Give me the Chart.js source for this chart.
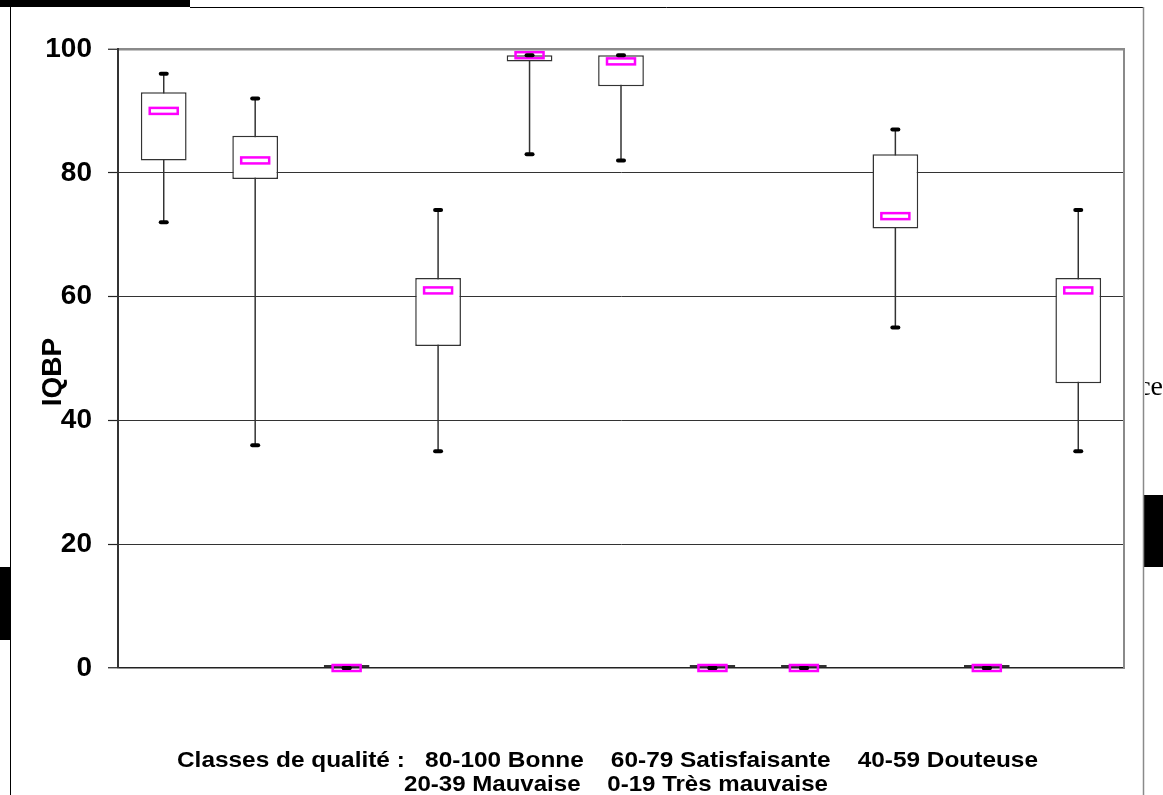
<!DOCTYPE html>
<html>
<head>
<meta charset="utf-8">
<script src="https://cdn.jsdelivr.net/npm/chart.js@4.4.1/dist/chart.umd.min.js"></script>
<style>
html, body { margin: 0; padding: 0; background: #fff; }
canvas { display: block; }
</style>
</head>
<body>
<canvas id="iqbpChart" width="1163" height="795"></canvas>
<script>
// Stations (pas d'étiquette visible sur l'axe X)
const sites = ['1', '2', '3', '4', '5', '6', '7', '8', '9', '10', '11'];

// Valeurs de l'IQBP par station
const whiskerLow  = [72, 36, 0, 35, 83, 82, 0, 0, 55, 0, 35];
const quart1      = [82, 79, 0, 52, 98, 94, 0, 0, 71, 0, 46];
const medians     = [90, 82, 0, 61, 99, 98, 0, 0, 73, 0, 61];
const quart3      = [93, 86, 0, 63, 99, 99, 0, 0, 83, 0, 63];
const whiskerHigh = [96, 92, 0, 74, 99, 99, 0, 0, 87, 0, 74];

const yTicks = [0, 20, 40, 60, 80, 100];
const yTitle = 'IQBP';
const legendLines = [
    'Classes de qualité :   80-100 Bonne    60-79 Satisfaisante    40-59 Douteuse',
    '20-39 Mauvaise    0-19 Très mauvaise'
];

const FONT = '"Liberation Sans", Arial, sans-serif';

// cadre et morceaux de page autour du graphique
const pageFrame = {
    id: 'pageFrame',
    beforeDraw(chart) {
        const ctx = chart.ctx;
        ctx.save();
        ctx.fillStyle = '#fff';
        ctx.fillRect(0, 0, chart.width, chart.height);
        ctx.fillStyle = '#000';
        ctx.fillRect(0, 0, 190, 7);
        ctx.fillRect(0, 567, 10, 73);
        ctx.fillRect(1144, 495, 19, 72);
        ctx.strokeStyle = '#000';
        ctx.lineWidth = 1;
        ctx.beginPath();
        ctx.moveTo(190, 7.5); ctx.lineTo(1143, 7.5);
        ctx.moveTo(10.5, 7); ctx.lineTo(10.5, 795);
        ctx.stroke();
        ctx.strokeStyle = '#8a8a8a';
        ctx.lineWidth = 1.5;
        ctx.beginPath();
        ctx.moveTo(1143.5, 7); ctx.lineTo(1143.5, 795);
        ctx.stroke();
        // bout de texte coupé à droite
        ctx.beginPath();
        ctx.rect(1145, 360, 18, 50);
        ctx.clip();
        ctx.fillStyle = '#000';
        ctx.font = '28px "Liberation Serif", serif';
        ctx.textAlign = 'right';
        ctx.fillText('ce', 1163, 395);
        ctx.restore();
    },
    afterDraw(chart) {
        const ctx = chart.ctx;
        const area = chart.chartArea;
        ctx.save();
        // bordure droite de la zone de tracé
        ctx.strokeStyle = '#8a8a8a';
        ctx.lineWidth = 2;
        ctx.beginPath();
        ctx.moveTo(area.right, area.top - 1);
        ctx.lineTo(area.right, area.bottom + 1);
        ctx.stroke();

        // titre de l'axe Y
        ctx.fillStyle = '#000';
        ctx.font = 'bold 28px ' + FONT;
        ctx.textAlign = 'center';
        ctx.textBaseline = 'middle';
        ctx.translate(53, 372);
        ctx.rotate(-Math.PI / 2);
        ctx.fillText(yTitle, 0, 0);
        ctx.restore();

        // classes de qualité
        const spots = [
            { cx: 607.5, w: 861, y: 767 },
            { cx: 616, w: 424, y: 791 }
        ];
        legendLines.forEach((line, i) => {
            ctx.save();
            ctx.font = 'bold 22px ' + FONT;
            ctx.fillStyle = '#000';
            ctx.textAlign = 'center';
            ctx.textBaseline = 'alphabetic';
            const m = ctx.measureText(line).width;
            ctx.translate(spots[i].cx, spots[i].y);
            ctx.scale(spots[i].w / m, 1);
            ctx.fillText(line, 0, 0);
            ctx.restore();
        });
    }
};

// moustaches, médianes et extrémités
const boxPlot = {
    id: 'boxPlot',
    beforeDatasetsDraw(chart) {
        const { ctx, scales: { x, y } } = chart;
        ctx.save();
        ctx.strokeStyle = '#333';
        ctx.lineWidth = 1.5;
        sites.forEach((s, i) => {
            const px = x.getPixelForValue(i);
            ctx.beginPath();
            ctx.moveTo(px, y.getPixelForValue(whiskerLow[i]));
            ctx.lineTo(px, y.getPixelForValue(whiskerHigh[i]));
            ctx.stroke();
        });
        ctx.restore();
    },
    afterDatasetsDraw(chart) {
        const { ctx, scales: { x, y } } = chart;
        ctx.save();
        sites.forEach((s, i) => {
            const px = x.getPixelForValue(i);
            const py = y.getPixelForValue(medians[i]);
            ctx.strokeStyle = '#ff00ff';
            ctx.lineWidth = 2.5;
            ctx.strokeRect(px - 14, py - 3, 28, 6);
        });
        ctx.strokeStyle = '#000';
        ctx.lineWidth = 4;
        ctx.lineCap = 'round';
        sites.forEach((s, i) => {
            const px = x.getPixelForValue(i);
            [whiskerLow[i], whiskerHigh[i]].forEach(v => {
                const py = y.getPixelForValue(v);
                ctx.beginPath();
                ctx.moveTo(px - 3, py);
                ctx.lineTo(px + 3, py);
                ctx.stroke();
            });
        });
        ctx.restore();
    }
};

const ctx = document.getElementById('iqbpChart').getContext('2d');

const data = {
    labels: sites,
    datasets: [{
        label: 'IQBP',
        data: sites.map((s, i) => [quart1[i], quart3[i]]),
        backgroundColor: '#fff',
        borderColor: '#333',
        borderWidth: 1.5,
        borderSkipped: false,
        minBarLength: 3,
        barPercentage: 0.5,
        categoryPercentage: 1
    }]
};

const config = {
    type: 'bar',
    data: data,
    plugins: [pageFrame, boxPlot],
    options: {
        responsive: false,
        animation: false,
        layout: { padding: { left: 0, top: 49, right: 39, bottom: 127 } },
        plugins: {
            legend: { display: false },
            tooltip: { enabled: false }
        },
        scales: {
            x: { display: false, offset: true },
            y: {
                min: 0,
                max: 100,
                afterFit: (scale) => { scale.width = 118; },
                afterBuildTicks: (scale) => { scale.ticks = yTicks.map(v => ({ value: v })); },
                border: { color: '#333', width: 2 },
                grid: {
                    color: (c) => c.tick.value === 100 ? '#8a8a8a' : (c.tick.value === 0 ? '#222' : '#333'),
                    lineWidth: (c) => c.tick.value === 100 ? 2.5 : (c.tick.value === 0 ? 1.5 : 1),
                    tickColor: '#222',
                    tickLength: 10,
                    tickWidth: 1.2
                },
                ticks: {
                    color: '#000',
                    padding: 16,
                    font: { family: FONT, size: 28, weight: 'bold' }
                }
            }
        }
    }
};

const iqbpChart = new Chart(ctx, config);
</script>
</body>
</html>
